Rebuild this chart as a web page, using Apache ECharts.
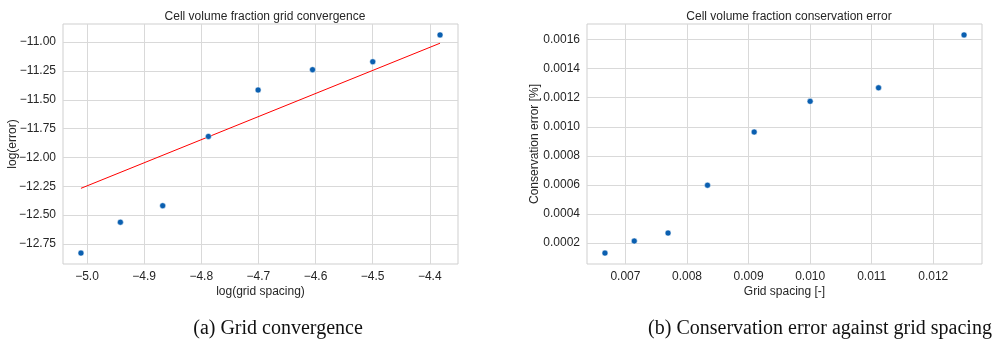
<!DOCTYPE html>
<html>
<head>
<meta charset="utf-8">
<script src="https://cdn.jsdelivr.net/npm/echarts@6/dist/echarts.min.js"></script>
<style>
html,body{margin:0;padding:0;background:#fff;}
#c{width:992px;height:345px;}
</style>
</head>
<body>
<div id="c"></div>
<script>
// ---- Data ----
// (a) Grid convergence
const logSpacing = [-5.0106, -4.9416, -4.8675, -4.7875, -4.7005, -4.6052, -4.4998, -4.3820];
const logError   = [-12.830, -12.562, -12.419, -11.818, -11.415, -11.239, -11.170, -10.937];
const fitX = [-5.0106, -4.3820];
const fitY = [-12.268, -11.009];
const xTicksA = [-5.0, -4.9, -4.8, -4.7, -4.6, -4.5, -4.4];
const yTicksA = [-12.75, -12.5, -12.25, -12.0, -11.75, -11.5, -11.25, -11.0];
// (b) Conservation error against grid spacing
const gridSpacing = [0.006667, 0.007143, 0.007692, 0.008333, 0.009091, 0.010000, 0.011111, 0.012500];
const consError   = [0.000131, 0.000214, 0.000269, 0.000598, 0.000964, 0.001175, 0.001268, 0.001632];
const xTicksB = [0.007, 0.008, 0.009, 0.010, 0.011, 0.012];
const yTicksB = [0.0002, 0.0004, 0.0006, 0.0008, 0.0010, 0.0012, 0.0014, 0.0016];

const titles = ['Cell volume fraction grid convergence', 'Cell volume fraction conservation error'];
const xNames = ['log(grid spacing)', 'Grid spacing [-]'];
const yNames = ['log(error)', 'Conservation error [%]'];
const captions = ['(a) Grid convergence', '(b) Conservation error against grid spacing'];

// ---- helpers ----
function pad(arr, frac) {
  const mn = Math.min(...arr), mx = Math.max(...arr), r = mx - mn;
  return [mn - r * frac, mx + r * frac];
}
const minus = s => s.replace('-', '\u2212');
const txt = '#262626';
const gridCol = '#d9d9d9';
const font = 'Liberation Sans, Arial, sans-serif';

function valAxis(ext, ticks, fmt, name, gap, pos) {
  return {
    type: 'value', position: pos,
    min: ext[0], max: ext[1],
    name: name, nameLocation: 'middle', nameGap: gap, nameMoveOverlap: false,
    nameTextStyle: { color: txt, fontSize: 12, fontFamily: font },
    axisLine: { show: false },
    axisTick: { show: false, customValues: ticks },
    axisLabel: { customValues: ticks, formatter: fmt, color: txt, fontSize: 12, fontFamily: font, margin: 7 },
    splitLine: { show: true, lineStyle: { color: gridCol, width: 1 } }
  };
}

const xa = pad(logSpacing, 0.05), ya = pad(logError, 0.05);
const xb = pad(gridSpacing, 0.05), yb = pad(consError, 0.05);

const chart = echarts.init(document.getElementById('c'), null, { renderer: 'canvas' });
const grids = [
  { left: 63, right: 534, top: 24, bottom: 81, show: true, borderColor: '#cfcfcf', borderWidth: 1, backgroundColor: '#fff' },
  { left: 587, right: 10, top: 24, bottom: 81, show: true, borderColor: '#cfcfcf', borderWidth: 1, backgroundColor: '#fff' }
];
const dotColor = '#0a5fb0';
chart.setOption({
  animation: false,
  backgroundColor: '#fff',
  title: [
    { text: titles[0], left: 260, top: 6, textAlign: 'center', textStyle: { color: txt, fontSize: 12, fontWeight: 'normal', fontFamily: font } },
    { text: titles[1], left: 784, top: 6, textAlign: 'center', textStyle: { color: txt, fontSize: 12, fontWeight: 'normal', fontFamily: font } },
    { text: captions[0], left: 273, top: 314, textAlign: 'center', textStyle: { color: '#111', fontSize: 20, fontWeight: 'normal', fontFamily: 'Liberation Serif, serif' } },
    { text: captions[1], left: 815, top: 314, textAlign: 'center', textStyle: { color: '#111', fontSize: 20, fontWeight: 'normal', fontFamily: 'Liberation Serif, serif' } }
  ],
  grid: grids,
  xAxis: [
    Object.assign(valAxis(xa, xTicksA, v => minus(v.toFixed(1)), xNames[0], 22, 'bottom'), { gridIndex: 0 }),
    Object.assign(valAxis(xb, xTicksB, v => v.toFixed(3), xNames[1], 22, 'bottom'), { gridIndex: 1 })
  ],
  yAxis: [
    Object.assign(valAxis(ya, yTicksA, v => minus(v.toFixed(2)), yNames[0], 44, 'left'), { gridIndex: 0 }),
    Object.assign(valAxis(yb, yTicksB, v => v.toFixed(4), yNames[1], 46, 'left'), { gridIndex: 1 })
  ],
  series: [
    { type: 'line', xAxisIndex: 0, yAxisIndex: 0, data: fitX.map((x, i) => [x, fitY[i]]),
      showSymbol: false, symbol: 'none', lineStyle: { color: '#ff0000', width: 1 }, z: 2 },
    { type: 'scatter', xAxisIndex: 0, yAxisIndex: 0, data: logSpacing.map((x, i) => [x, logError[i]]),
      symbolSize: 6, itemStyle: { color: dotColor, borderColor: '#fff', borderWidth: 0.5, opacity: 1 }, z: 3 },
    { type: 'scatter', xAxisIndex: 1, yAxisIndex: 1, data: gridSpacing.map((x, i) => [x, consError[i]]),
      symbolSize: 6, itemStyle: { color: dotColor, borderColor: '#fff', borderWidth: 0.5, opacity: 1 }, z: 3 }
  ]
});
</script>
</body>
</html>
